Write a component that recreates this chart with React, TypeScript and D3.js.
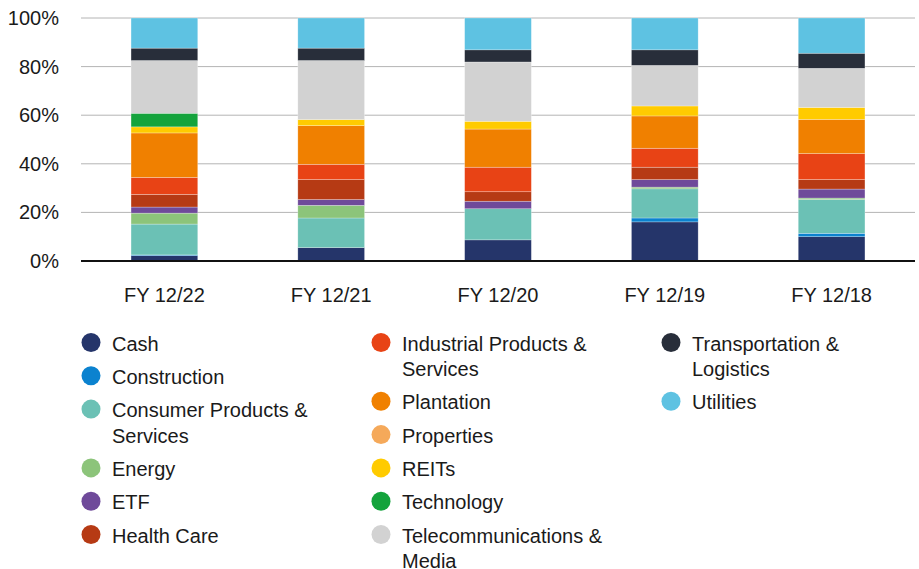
import React from "react";
import * as d3 from "d3";

const categories = ["FY 12/22", "FY 12/21", "FY 12/20", "FY 12/19", "FY 12/18"];

const sectors = [
  "Cash",
  "Construction",
  "Consumer Products & Services",
  "Energy",
  "ETF",
  "Health Care",
  "Industrial Products & Services",
  "Plantation",
  "Properties",
  "REITs",
  "Technology",
  "Telecommunications & Media",
  "Transportation & Logistics",
  "Utilities",
];

// values per sector, in category order
const cash = [2.2, 5.5, 8.7, 16.1, 10.0];
const construction = [0.3, 0, 0, 1.6, 1.4];
const consumer = [12.7, 12.2, 12.8, 12.0, 13.9];
const energy = [4.5, 5.2, 0, 0.7, 0.6];
const etf = [2.5, 2.4, 3.1, 3.1, 3.7];
const healthCare = [5.2, 8.2, 3.9, 5.1, 3.9];
const industrial = [7.0, 6.3, 10.1, 7.8, 10.7];
const plantation = [18.3, 15.9, 15.7, 13.3, 14.1];
const properties = [0, 0, 0, 0, 0];
const reits = [2.5, 2.5, 3.2, 4.1, 4.9];
const technology = [5.6, 0, 0, 0, 0];
const telecom = [21.7, 24.3, 24.4, 16.7, 16.1];
const transport = [5.1, 5.1, 5.0, 6.4, 6.2];
const utilities = [12.4, 12.4, 13.1, 13.1, 14.5];

const seriesValues = [
  cash, construction, consumer, energy, etf, healthCare, industrial,
  plantation, properties, reits, technology, telecom, transport, utilities,
];

const colors = [
  "#25356a", "#0b82cf", "#6bc1b5", "#8cc47a", "#6f4a9a", "#b63a14", "#e84315",
  "#f08000", "#f5a95a", "#ffcb00", "#14a33c", "#d2d2d2", "#282e3a", "#5ec2e2",
];

const yTicks = [0, 20, 40, 60, 80, 100];

const legendColumns = [
  [
    ["Cash"],
    ["Construction"],
    ["Consumer Products &", "Services"],
    ["Energy"],
    ["ETF"],
    ["Health Care"],
  ],
  [
    ["Industrial Products &", "Services"],
    ["Plantation"],
    ["Properties"],
    ["REITs"],
    ["Technology"],
    ["Telecommunications &", "Media"],
  ],
  [
    ["Transportation &", "Logistics"],
    ["Utilities"],
  ],
];

const W = 919;
const H = 569;
const FONT = "'Liberation Sans', Arial, Helvetica, sans-serif";

export default function App() {
  const x = d3
    .scaleBand<string>()
    .domain(categories)
    .range([81, 915])
    .paddingInner(0.6)
    .paddingOuter(0.3);
  const y = d3.scaleLinear().domain([0, 100]).range([261, 18]);

  const table = categories.map((c, i) => {
    const row: Record<string, any> = { cat: c };
    sectors.forEach((s, j) => (row[s] = seriesValues[j][i]));
    return row;
  });
  const stacked = d3.stack<any>().keys(sectors)(table);

  const colorOf = (name: string) => colors[sectors.indexOf(name)];

  // legend layout
  const legendItems: { lines: string[]; cx: number; cy: number }[] = [];
  legendColumns.forEach((col, ci) => {
    let cy = 342.5;
    col.forEach((lines) => {
      legendItems.push({ lines, cx: 91 + ci * 290, cy });
      cy += lines.length > 1 ? 58.8 : 33.3;
    });
  });

  return (
    <svg
      width={W}
      height={H}
      style={{ position: "absolute", left: 0, top: 0, background: "#fff" }}
      fontFamily={FONT}
    >
      {yTicks.map((t) =>
        t === 0 ? null : (
          <line
            key={"g" + t}
            x1={81}
            x2={915}
            y1={y(t)}
            y2={y(t)}
            stroke="#b4b4b4"
            strokeWidth={1}
          />
        )
      )}
      {yTicks.map((t) => (
        <text
          key={"t" + t}
          x={59}
          y={y(t)}
          dy="0.35em"
          textAnchor="end"
          fontSize={20}
          fill="#1a1a1a"
        >
          {t}%
        </text>
      ))}
      {stacked.map((layer) => (
        <g key={layer.key} fill={colorOf(layer.key)}>
          {layer.map((d, i) =>
            d[1] - d[0] > 0 ? (
              <rect
                key={i}
                x={x(categories[i])!}
                width={x.bandwidth()}
                y={y(d[1])}
                height={y(d[0]) - y(d[1])}
                stroke="rgba(255,255,255,0.45)"
                strokeWidth={0.6}
              />
            ) : null
          )}
        </g>
      ))}
      <line x1={81} x2={915} y1={y(0)} y2={y(0)} stroke="#111" strokeWidth={2} />
      {categories.map((c) => (
        <text
          key={c}
          x={x(c)! + x.bandwidth() / 2}
          y={301.5}
          textAnchor="middle"
          fontSize={20}
          fill="#1a1a1a"
        >
          {c}
        </text>
      ))}
      {legendItems.map((it) => (
        <g key={it.lines.join(" ")}>
          <circle cx={it.cx} cy={it.cy} r={9.5} fill={colorOf(it.lines.join(" "))} />
          {it.lines.map((ln, k) => (
            <text
              key={k}
              x={it.cx + 21}
              y={it.cy + 8 + k * 25.5}
              fontSize={20}
              fill="#1a1a1a"
            >
              {ln}
            </text>
          ))}
        </g>
      ))}
    </svg>
  );
}
